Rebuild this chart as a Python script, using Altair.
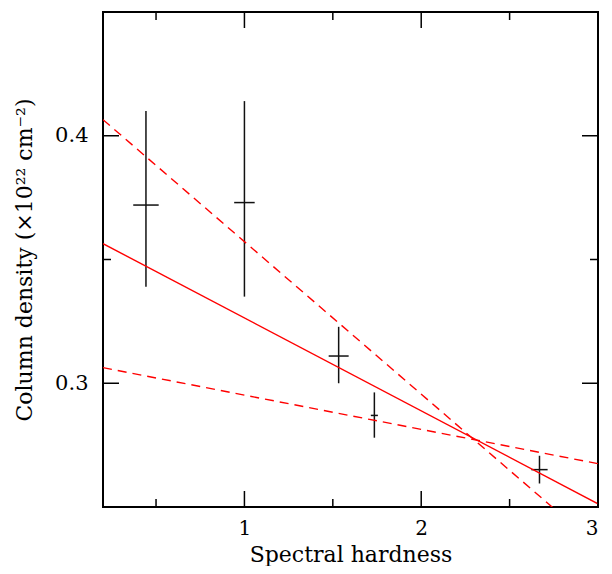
import altair as alt
import pandas as pd

# --- data ---
hardness = [0.443, 1.0, 1.533, 1.735, 2.669]
hardness_err = [0.072, 0.058, 0.0565, 0.02, 0.046]
density = [0.372, 0.373, 0.311, 0.287, 0.2651]
density_lo = [0.339, 0.335, 0.300, 0.278, 0.2595]
density_hi = [0.410, 0.414, 0.3228, 0.2963, 0.2707]

line_x = [0.2, 3.0]
fit_y = [0.3564, 0.2513]
upper_y = [0.4065, 0.2340]
lower_y = [0.3063, 0.2675]

x_major = [1, 2, 3]
x_minor = [0.5, 1.5, 2.5]
y_major = [0.3, 0.4]
y_minor = [0.35]

X_DOMAIN = [0.2, 3.0]
Y_DOMAIN = [0.25, 0.45]
W = 495
H = 495
FONT = "DejaVu Serif"

pts = pd.DataFrame({
    "x": hardness,
    "xlo": [a - b for a, b in zip(hardness, hardness_err)],
    "xhi": [a + b for a, b in zip(hardness, hardness_err)],
    "y": density,
    "ylo": density_lo,
    "yhi": density_hi,
})

xs = alt.Scale(domain=X_DOMAIN, nice=False, zero=False)
ys = alt.Scale(domain=Y_DOMAIN, nice=False, zero=False)

x_axis = alt.Axis(values=x_major, format="d", ticks=False, domain=False, grid=False,
                  labelPadding=11, labelFont=FONT, labelFontSize=20, labelColor="black",
                  title="Spectral hardness", titleFont=FONT, titleFontSize=22,
                  titleFontWeight="normal", titleColor="black",
                  titleX=W / 2, titleY=47, titleBaseline="middle", titleAlign="center")
y_axis = alt.Axis(values=y_major, format=".1f", ticks=False, domain=False, grid=False,
                  labelPadding=15, labelFont=FONT, labelFontSize=21, labelColor="black",
                  title="Column density (×10²² cm⁻²)", titleFont=FONT, titleFontSize=22,
                  titleFontWeight="normal", titleColor="black",
                  titleX=-79, titleY=H / 2, titleBaseline="middle", titleAlign="center")

base = alt.Chart(pts)

vbars = base.mark_rule(color="#111111", strokeWidth=1.5).encode(
    x=alt.X("x:Q", scale=xs, axis=x_axis),
    y=alt.Y("ylo:Q", scale=ys, axis=y_axis),
    y2="yhi:Q",
)
hbars = base.mark_rule(color="#111111", strokeWidth=1.5).encode(
    x=alt.X("xlo:Q", scale=xs),
    x2="xhi:Q",
    y=alt.Y("y:Q", scale=ys),
)


def line_layer(yvals, dash):
    df = pd.DataFrame({"x": line_x, "y": yvals})
    kw = dict(color="#ff0000", strokeWidth=1.4, clip=True)
    if dash:
        kw["strokeDash"] = [9, 6]
    return alt.Chart(df).mark_line(**kw).encode(
        x=alt.X("x:Q", scale=xs), y=alt.Y("y:Q", scale=ys)
    )


fit = line_layer(fit_y, False)
upper = line_layer(upper_y, True)
lower = line_layer(lower_y, True)

xt = pd.DataFrame({"v": x_major + x_minor, "len": [16] * len(x_major) + [8] * len(x_minor)})
yt = pd.DataFrame({"v": y_major + y_minor, "len": [16] * len(y_major) + [8] * len(y_minor)})

tick_layers = []
for _, r in xt.iterrows():
    sub = pd.DataFrame({"v": [r["v"]]})
    L = r["len"]
    tick_layers.append(alt.Chart(sub).mark_rule(color="black", strokeWidth=1.5).encode(
        x=alt.X("v:Q", scale=xs), y=alt.value(H), y2=alt.value(H - L)))
    tick_layers.append(alt.Chart(sub).mark_rule(color="black", strokeWidth=1.5).encode(
        x=alt.X("v:Q", scale=xs), y=alt.value(0), y2=alt.value(L)))
for _, r in yt.iterrows():
    sub = pd.DataFrame({"v": [r["v"]]})
    L = r["len"]
    tick_layers.append(alt.Chart(sub).mark_rule(color="black", strokeWidth=1.5).encode(
        y=alt.Y("v:Q", scale=ys), x=alt.value(0), x2=alt.value(L)))
    tick_layers.append(alt.Chart(sub).mark_rule(color="black", strokeWidth=1.5).encode(
        y=alt.Y("v:Q", scale=ys), x=alt.value(W), x2=alt.value(W - L)))

chart = alt.layer(vbars, hbars, fit, upper, lower, *tick_layers).properties(
    width=W, height=H,
    autosize=alt.AutoSizeParams(type="none"),
    padding={"left": 95, "top": 4, "right": 6, "bottom": 59},
    background="white",
).configure_view(stroke="black", strokeWidth=2)

chart.save("out.html", embed_options={"renderer": "svg", "actions": False})
